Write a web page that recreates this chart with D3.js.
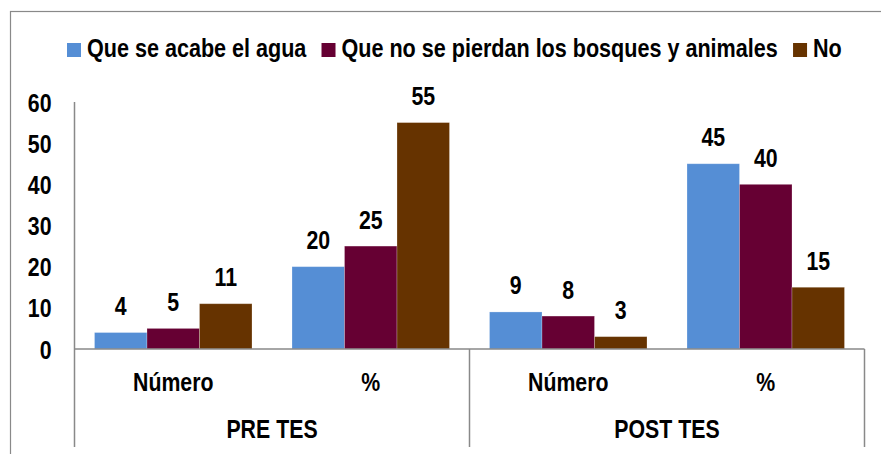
<!DOCTYPE html>
<html>
<head>
<meta charset="utf-8">
<script src="https://cdn.jsdelivr.net/npm/d3@7"></script>
<style>
  body { margin: 0; background: #fff; }
  svg text { font-family: "Liberation Sans Narrow", "Arial Narrow", "Liberation Sans", Arial, sans-serif; font-weight: bold; fill: #000; font-size: 26px; }
</style>
</head>
<body>
<div id="chart"></div>
<script>
const width = 881;
const height = 454;

// data
const groups = ["PRE TES", "POST TES"];
const subgroups = ["Número", "%"];
const seriesNames = ["Que se acabe el agua", "Que no se pierdan los bosques y animales", "No"];
const colors = ["#558ED5", "#660033", "#663300"];
const agua = [4, 20, 9, 45];
const bosques = [5, 25, 8, 40];
const no = [11, 55, 3, 15];
const yTicks = [0, 10, 20, 30, 40, 50, 60];

const seriesValues = [agua, bosques, no];

// no narrow font installed, so squeeze the regular bold one
const narrow = 0.82;
function squeeze(sel, k) {
    k = k || narrow;
    sel.each(function () {
        const t = d3.select(this);
        const tx = +t.attr("x") || 0, ty = +t.attr("y") || 0;
        t.attr("transform", "translate(" + tx + "," + ty + ") scale(" + k + ",1)")
            .attr("x", 0).attr("y", 0);
    });
}

const svg = d3.select("#chart").append("svg")
    .attr("width", width)
    .attr("height", height);

// chart area border (runs off the right/bottom edge)
svg.append("rect")
    .attr("x", 10.5).attr("y", 11.5)
    .attr("width", 900).attr("height", 500)
    .attr("fill", "none")
    .attr("stroke", "#898989")
    .attr("stroke-width", 1.2);

const plotLeft = 74.5, plotRight = 864.5, plotTop = 102, plotBottom = 349;

const y = d3.scaleLinear().domain([0, 60]).range([plotBottom, plotTop]);

const x0 = d3.scaleBand().domain(groups).range([plotLeft, plotRight]);
const x1 = d3.scaleBand().domain(subgroups).range([0, x0.bandwidth()]);
const x2 = d3.scaleBand().domain(seriesNames).range([0, x1.bandwidth()]).paddingInner(0).paddingOuter(0.381);

// flat list of bars
let bars = [];
groups.forEach(function (g, gi) {
    subgroups.forEach(function (s, si) {
        seriesNames.forEach(function (n, ni) {
            bars.push({ group: g, sub: s, series: n, idx: ni, value: seriesValues[ni][gi * 2 + si] });
        });
    });
});

const barX = d => x0(d.group) + x1(d.sub) + x2(d.series);

svg.append("g")
    .selectAll("rect")
    .data(bars)
    .enter().append("rect")
    .attr("x", barX)
    .attr("y", d => y(d.value))
    .attr("width", x2.bandwidth())
    .attr("height", d => y(0) - y(d.value))
    .attr("fill", d => colors[d.idx])
    .attr("stroke", "rgba(255,255,255,0.3)")
    .attr("stroke-width", 0.8);

// data labels
svg.append("g")
    .selectAll("text")
    .data(bars)
    .enter().append("text")
    .attr("x", d => barX(d) + x2.bandwidth() / 2)
    .attr("y", d => y(d.value) - 17.5)
    .attr("text-anchor", "middle")
    .text(d => d.value)
    .call(squeeze);

// y axis
const yAxis = svg.append("g")
    .attr("transform", "translate(" + plotLeft + ",0)")
    .call(d3.axisLeft(y).tickValues(yTicks).tickSize(0).tickPadding(23));
yAxis.select(".domain").remove();
yAxis.attr("font-family", null).attr("font-size", null);
yAxis.selectAll("text")
    .attr("dy", null)
    .attr("y", 9)
    .call(squeeze);

// axis lines
const axisColor = "#898989";
svg.append("line")
    .attr("x1", plotLeft).attr("x2", plotLeft)
    .attr("y1", plotTop).attr("y2", 447)
    .attr("stroke", axisColor).attr("stroke-width", 1.5);
svg.append("line")
    .attr("x1", plotLeft).attr("x2", plotRight)
    .attr("y1", plotBottom).attr("y2", plotBottom)
    .attr("stroke", axisColor).attr("stroke-width", 1.5);

// group separators
svg.append("g")
    .selectAll("line")
    .data(groups)
    .enter().append("line")
    .attr("x1", d => x0(d) + x0.bandwidth())
    .attr("x2", d => x0(d) + x0.bandwidth())
    .attr("y1", plotBottom).attr("y2", 447)
    .attr("stroke", axisColor).attr("stroke-width", 1.5);

// inner category labels
groups.forEach(function (g) {
    svg.append("g")
        .selectAll("text")
        .data(subgroups)
        .enter().append("text")
        .attr("x", d => x0(g) + x1(d) + x1.bandwidth() / 2)
        .attr("y", 391)
        .attr("text-anchor", "middle")
        .text(d => d)
        .call(squeeze);
});

// outer group labels
svg.append("g")
    .selectAll("text")
    .data(groups)
    .enter().append("text")
    .attr("x", d => x0(d) + x0.bandwidth() / 2)
    .attr("y", 438)
    .attr("text-anchor", "middle")
    .text(d => d)
    .call(squeeze);

// legend
const legendScale = 0.83;
const legend = svg.append("g");
let lx = 67;
seriesNames.forEach(function (n, i) {
    legend.append("rect")
        .attr("x", lx).attr("y", 43)
        .attr("width", 14).attr("height", 14)
        .attr("fill", colors[i]);
    let t = legend.append("text")
        .attr("x", lx + 20)
        .attr("y", 57)
        .text(n);
    let w = t.node().getComputedTextLength() * legendScale;
    t.call(squeeze, legendScale);
    lx = lx + 20 + w + 15;
});
</script>
</body>
</html>
